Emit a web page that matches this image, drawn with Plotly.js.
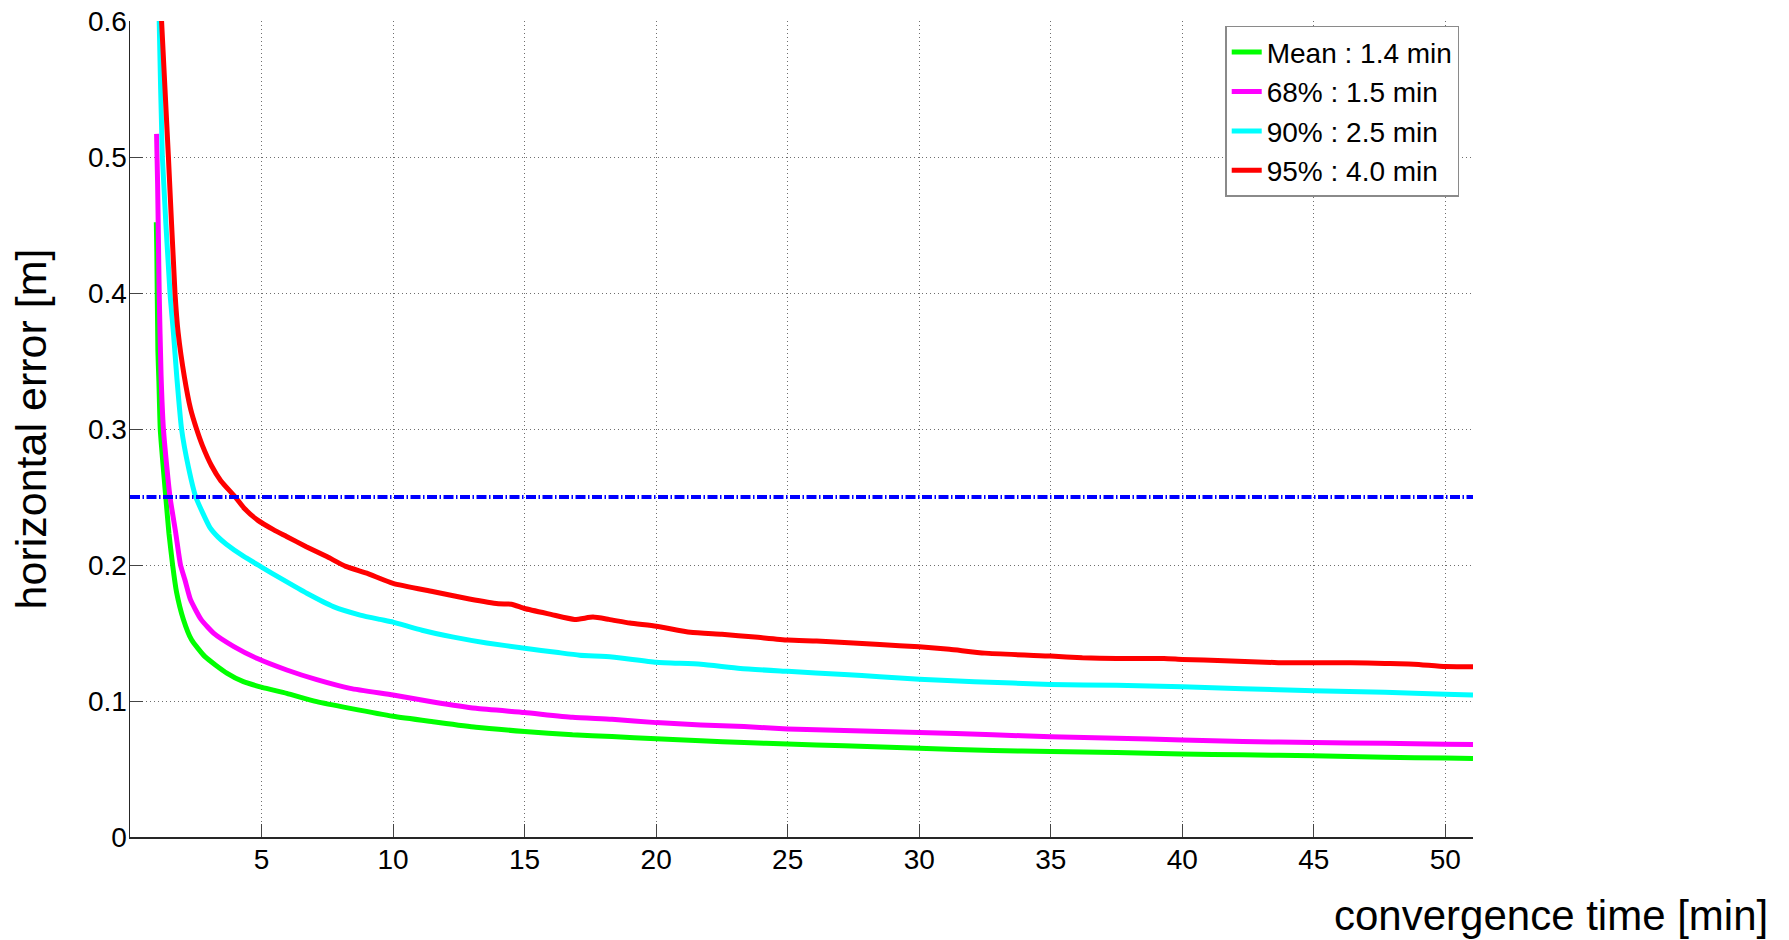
<!DOCTYPE html>
<html>
<head>
<meta charset="utf-8">
<script src="https://cdn.plot.ly/plotly-3.0.1.min.js"></script>
<style>
  html, body { margin: 0; padding: 0; background: #ffffff; }
  #chart { width: 1789px; height: 940px; }
</style>
</head>
<body>
<div id="chart"></div>
<script>
// Horizontal positioning error vs. convergence time (minutes)

// Mean error
const meanT = [1.00, 1.02, 1.06, 1.10, 1.15, 1.25, 1.36, 1.48, 1.62, 1.77, 2.03, 2.34, 2.85, 3.68, 4.31, 5.02, 5.96, 7.10, 8.37, 10.0, 11.52, 13.15, 15.0, 16.82, 18.32, 20.0, 21.7, 23.34, 25.0, 27.15, 30.0, 32.8, 35.0, 37.5, 40.0, 42.3, 45.0, 47.7, 50.0, 51.05];
const meanErr = [0.452, 0.430, 0.358, 0.334, 0.300, 0.275, 0.250, 0.2233, 0.200, 0.180, 0.160, 0.145, 0.1326, 0.1205, 0.1142, 0.110, 0.1056, 0.0995, 0.0946, 0.0888, 0.0848, 0.0807, 0.0776, 0.0751, 0.0739, 0.0722, 0.0707, 0.0695, 0.0683, 0.0671, 0.0652, 0.0636, 0.0628, 0.0621, 0.0611, 0.0604, 0.0597, 0.0587, 0.0580, 0.0577];

// 68th percentile
const p68T = [1.01, 1.05, 1.08, 1.11, 1.18, 1.27, 1.40, 1.52, 1.74, 1.92, 2.09, 2.30, 2.70, 3.20, 3.95, 4.82, 5.96, 7.10, 8.37, 10.0, 11.52, 13.15, 15.0, 16.82, 18.32, 20.0, 21.7, 23.34, 25.0, 27.15, 30.0, 32.8, 35.0, 37.5, 40.0, 42.3, 45.0, 47.7, 50.0, 51.05];
const p68Err = [0.517, 0.480, 0.440, 0.400, 0.340, 0.300, 0.272, 0.250, 0.2233, 0.200, 0.189, 0.1745, 0.160, 0.1495, 0.140, 0.1314, 0.1228, 0.1157, 0.1093, 0.1044, 0.0993, 0.0946, 0.0915, 0.0880, 0.0866, 0.0841, 0.0824, 0.0812, 0.0795, 0.0783, 0.0769, 0.0751, 0.0738, 0.0726, 0.0714, 0.0702, 0.0694, 0.0689, 0.0682, 0.0680];

// 90th percentile
const p90T = [1.00, 1.11, 1.23, 1.52, 1.65, 1.78, 1.96, 2.22, 2.50, 3.04, 3.35, 3.65, 4.31, 5.0, 5.83, 6.72, 7.73, 8.75, 9.5, 10.0, 11.1, 12.3, 13.56, 15.0, 16.28, 17.09, 18.32, 20.0, 21.7, 23.2, 25.0, 27.15, 28.5, 30.0, 32.1, 35.0, 37.5, 40.0, 42.3, 45.0, 47.7, 50.0, 51.05];
const p90Err = [0.690, 0.600, 0.500, 0.400, 0.371, 0.338, 0.300, 0.272, 0.250, 0.2275, 0.2205, 0.2155, 0.2065, 0.1985, 0.189, 0.1792, 0.1694, 0.1632, 0.160, 0.158, 0.152, 0.147, 0.1427, 0.1388, 0.1356, 0.1337, 0.1324, 0.1285, 0.127, 0.1239, 0.1218, 0.1195, 0.1178, 0.116, 0.1142, 0.1122, 0.1115, 0.1105, 0.109, 0.1076, 0.1064, 0.1049, 0.1044];

// 95th percentile
const p95T = [1.00, 1.20, 1.46, 1.71, 1.83, 2.07, 2.30, 2.53, 2.75, 3.10, 3.45, 4.00, 4.35, 4.85, 5.45, 5.95, 6.70, 7.50, 8.20, 9.00, 10.0, 11.5, 12.9, 14.0, 14.5, 15.0, 16.0, 16.9, 17.6, 18.2, 19.0, 20.0, 21.3, 22.5, 23.75, 25.0, 26.1, 27.15, 28.5, 30.0, 31.15, 32.5, 35.0, 36.2, 37.5, 39.3, 40.0, 41.6, 43.65, 45.0, 46.4, 47.7, 48.8, 50.0, 51.05];
const p95Err = [0.680, 0.600, 0.500, 0.400, 0.371, 0.338, 0.315, 0.300, 0.288, 0.273, 0.262, 0.250, 0.2415, 0.233, 0.226, 0.221, 0.2135, 0.206, 0.199, 0.194, 0.1865, 0.1805, 0.175, 0.1715, 0.1712, 0.168, 0.1637, 0.160, 0.1617, 0.160, 0.1573, 0.155, 0.1505, 0.149, 0.147, 0.1448, 0.1441, 0.143, 0.1415, 0.1398, 0.138, 0.1352, 0.133, 0.1318, 0.1313, 0.1313, 0.1306, 0.1296, 0.1282, 0.1281, 0.1281, 0.1276, 0.1271, 0.1253, 0.1252];

// Accuracy threshold (m) and time span of the axis
const thresholdT = [0, 51.05];
const thresholdErr = [0.25, 0.25];

const seriesNames = ['Mean : 1.4 min', '68% : 1.5 min', '90% : 2.5 min', '95% : 4.0 min'];
const seriesColors = ['#00ff00', '#ff00ff', '#00ffff', '#ff0000'];

const xTickVals = [5, 10, 15, 20, 25, 30, 35, 40, 45, 50];
const yTickVals = [0, 0.1, 0.2, 0.3, 0.4, 0.5, 0.6];
const yTickText = ['0', '0.1', '0.2', '0.3', '0.4', '0.5', '0.6'];

const FONT = '"Liberation Sans", Arial, Helvetica, sans-serif';

const xs = [meanT, p68T, p90T, p95T];
const ys = [meanErr, p68Err, p90Err, p95Err];

const traces = xs.map((x, i) => ({
  x: x,
  y: ys[i],
  type: 'scatter',
  mode: 'lines',
  name: seriesNames[i],
  line: { color: seriesColors[i], width: 5, shape: 'spline', smoothing: 0.5 },
  hoverinfo: 'skip'
}));

traces.push({
  x: thresholdT,
  y: thresholdErr,
  type: 'scatter',
  mode: 'lines',
  showlegend: false,
  line: { color: '#0000ff', width: 4, dash: '10px,2.5px,1.5px,2.5px' },
  hoverinfo: 'skip'
});

const layout = {
  width: 1789,
  height: 940,
  paper_bgcolor: '#ffffff',
  plot_bgcolor: '#ffffff',
  font: { family: FONT, color: '#000000', size: 28 },
  margin: { l: 130, r: 316, t: 21, b: 103, pad: 0 },
  showlegend: true,
  legend: {
    x: 0.8155, y: 0.994, xanchor: 'left', yanchor: 'top',
    bgcolor: '#ffffff',
    bordercolor: '#8a8a8a',
    borderwidth: 1.5,
    font: { family: FONT, size: 28, color: '#000000' },
    tracegroupgap: 0,
    itemwidth: 30
  },
  xaxis: {
    range: [0, 51.05],
    tickmode: 'array',
    tickvals: xTickVals,
    ticktext: xTickVals.map(String),
    ticks: 'inside',
    ticklen: 13,
    tickwidth: 1,
    tickcolor: '#444444',
    ticklabelstandoff: -3,
    showline: true,
    linecolor: '#262626',
    linewidth: 1.5,
    mirror: false,
    zeroline: false,
    showgrid: true,
    gridcolor: '#6e6e6e',
    gridwidth: 1,
    griddash: '1px,3px',
    tickfont: { family: FONT, size: 28, color: '#000000' },
    automargin: false,
    fixedrange: true
  },
  yaxis: {
    range: [0, 0.6],
    tickmode: 'array',
    tickvals: yTickVals,
    ticktext: yTickText,
    ticks: 'inside',
    ticklen: 13,
    tickwidth: 1,
    tickcolor: '#444444',
    ticklabelstandoff: -4,
    showline: true,
    linecolor: '#262626',
    linewidth: 1.5,
    mirror: false,
    zeroline: false,
    showgrid: true,
    gridcolor: '#6e6e6e',
    gridwidth: 1,
    griddash: '1px,3px',
    tickfont: { family: FONT, size: 28, color: '#000000' },
    title: {
      text: 'horizontal error [m]',
      font: { family: FONT, size: 43, color: '#000000' },
      standoff: 28
    },
    automargin: false,
    fixedrange: true
  },
  annotations: [{
    text: 'convergence time [min]',
    xref: 'paper', yref: 'paper',
    x: 1.2212, y: -0.0968,
    xanchor: 'right', yanchor: 'middle',
    showarrow: false,
    font: { family: FONT, size: 42, color: '#000000' }
  }]
};

Plotly.newPlot('chart', traces, layout, { displayModeBar: false, staticPlot: true });
</script>
</body>
</html>
